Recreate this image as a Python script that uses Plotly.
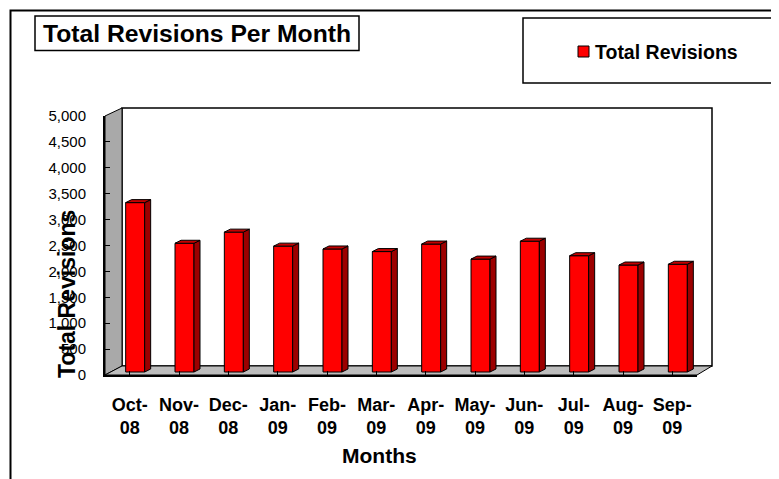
import plotly.graph_objects as go

# ---------------- data ----------------
months = ["Oct-08", "Nov-08", "Dec-08", "Jan-09", "Feb-09", "Mar-09",
          "Apr-09", "May-09", "Jun-09", "Jul-09", "Aug-09", "Sep-09"]
tick_labels = ["Oct-<br>08", "Nov-<br>08", "Dec-<br>08", "Jan-<br>09", "Feb-<br>09", "Mar-<br>09",
               "Apr-<br>09", "May-<br>09", "Jun-<br>09", "Jul-<br>09", "Aug-<br>09", "Sep-<br>09"]
revisions = [3270, 2485, 2700, 2430, 2375, 2325, 2470, 2180, 2525, 2245, 2065, 2080]
y_ticks = [0, 500, 1000, 1500, 2000, 2500, 3000, 3500, 4000, 4500, 5000]
series_name = "Total Revisions"

# ---------------- layout geometry (window pixels) ----------------
OFF = 8                                   # default page margin of the html body
W, H = 779 - OFF, 479 - OFF
L, R, T, B = 105, 712, 108, 375           # paper area in window pixels
pw, ph = R - L, B - T


def px(x):
    return (x - L) / pw


def py(y):
    return (B - y) / ph


FONT = "Liberation Sans, Arial, sans-serif"
n = len(months)
xr = [-0.5, n - 0.5]
yr = [0, 5000]

front_x_dom = [px(105), px(697)]
front_y_dom = [py(375), py(116)]

cat_px = (697 - 105) / n
val_px = (375 - 116) / yr[1]
bar_w = 19 / cat_px
shift_x = 5.5 / cat_px          # bars stand a little behind the front edge
shift_y = 3 / val_px
dx = 6 / cat_px                 # bar depth
dy = 3 / val_px

idx = list(range(n))

# side and top faces of the 3-D bars, built from the data values
side_x, side_y, top_x, top_y = [], [], [], []
for i, v in zip(idx, revisions):
    xl_ = i + shift_x - bar_w / 2
    xr_ = i + shift_x + bar_w / 2
    b0 = shift_y
    side_x += [xr_, xr_ + dx, xr_ + dx, xr_, xr_, None]
    side_y += [b0, b0 + dy, b0 + v + dy, b0 + v, b0, None]
    top_x += [xl_, xl_ + dx, xr_ + dx, xr_, xl_, None]
    top_y += [b0 + v, b0 + v + dy, b0 + v + dy, b0 + v, b0 + v, None]

fig = go.Figure()
fig.add_trace(go.Bar(
    x=idx, y=revisions, width=bar_w, offset=shift_x - bar_w / 2, base=shift_y,
    name=series_name,
    marker=dict(color="#ff0000", line=dict(color="black", width=1)),
    showlegend=False, hovertext=months, hoverinfo="text",
))
fig.add_trace(go.Scatter(
    x=side_x, y=side_y, mode="lines", fill="toself", fillcolor="#9c0000",
    line=dict(color="black", width=1), showlegend=False, hoverinfo="skip",
))
fig.add_trace(go.Scatter(
    x=top_x, y=top_y, mode="lines", fill="toself", fillcolor="#c40000",
    line=dict(color="black", width=1), showlegend=False, hoverinfo="skip",
))


def poly(points):
    return "M " + " L ".join(f"{px(a):.5f},{py(b):.5f}" for a, b in points) + " Z"


shapes = [
    # outer chart frame
    dict(type="rect", xref="paper", yref="paper", x0=px(10.5), x1=px(800), y0=py(10.5), y1=py(520),
         line=dict(color="black", width=2), fillcolor="rgba(0,0,0,0)", layer="below"),
    # back wall
    dict(type="rect", xref="paper", yref="paper", x0=px(122), x1=px(712), y0=py(366), y1=py(108),
         line=dict(color="black", width=1.5), fillcolor="white", layer="below"),
    # left wall
    dict(type="path", xref="paper", yref="paper",
         path=poly([(105, 375), (105, 116), (122, 108), (122, 366)]),
         line=dict(color="black", width=1), fillcolor="#a9a9a9", layer="below"),
    # floor
    dict(type="path", xref="paper", yref="paper",
         path=poly([(105, 375), (697, 375), (712, 366), (122, 366)]),
         line=dict(color="black", width=1), fillcolor="#bdbdbd", layer="below"),
    # title box
    dict(type="rect", xref="paper", yref="paper", x0=px(35), x1=px(359), y0=py(50.5), y1=py(16),
         line=dict(color="black", width=1.5), fillcolor="white", layer="below"),
    # legend box
    dict(type="rect", xref="paper", yref="paper", x0=px(523), x1=px(800), y0=py(83), y1=py(18),
         line=dict(color="black", width=1.5), fillcolor="white", layer="below"),
    # legend swatch
    dict(type="rect", xref="paper", yref="paper", x0=px(578), x1=px(589), y0=py(57), y1=py(46),
         line=dict(color="black", width=1), fillcolor="#ff0000", layer="above"),
]

annotations = [
    dict(text="Total Revisions", xref="paper", yref="paper", x=px(67), y=py(294),
         textangle=-90, showarrow=False, xanchor="center", yanchor="middle",
         font=dict(family=FONT, size=23, color="black", weight="bold")),
    dict(text="Months", xref="paper", yref="paper", x=px(379), y=py(455.5),
         showarrow=False, xanchor="center", yanchor="middle",
         font=dict(family=FONT, size=21, color="black", weight="bold")),
    dict(text=series_name, xref="paper", yref="paper", x=px(592.5), y=py(51.5),
         showarrow=False, xanchor="left", yanchor="middle",
         font=dict(family=FONT, size=19.5, color="black", weight="bold")),
]

fig.update_layout(
    width=W, height=H,
    margin=dict(l=L - OFF, r=W - (R - OFF), t=T - OFF, b=H - (B - OFF), pad=0),
    paper_bgcolor="white", plot_bgcolor="rgba(0,0,0,0)",
    showlegend=False,
    title=dict(text="Total Revisions Per Month", x=px(197), xref="paper", xanchor="center",
               y=1 - (33.5 - OFF) / H, yref="container", yanchor="middle",
               font=dict(family=FONT, size=24.7, color="black", weight="bold")),
    xaxis=dict(domain=front_x_dom, range=xr, tickmode="array", tickvals=idx,
               ticktext=tick_labels, ticks="inside", ticklen=4, tickcolor="black",
               showline=True, linecolor="black", linewidth=2, showgrid=False, zeroline=False,
               ticklabelstandoff=12, fixedrange=True,
               tickfont=dict(family=FONT, size=18, color="black", weight="bold")),
    yaxis=dict(domain=front_y_dom, range=yr, tickmode="array", tickvals=y_ticks,
               tickformat=",d", ticks="inside", ticklen=5, tickcolor="black",
               showline=True, linecolor="black", linewidth=2, showgrid=False, zeroline=False,
               ticklabelstandoff=14, fixedrange=True,
               tickfont=dict(family=FONT, size=15, color="black")),
    shapes=shapes, annotations=annotations,
    font=dict(family=FONT, color="black"),
)

fig.write_html("out.html")
